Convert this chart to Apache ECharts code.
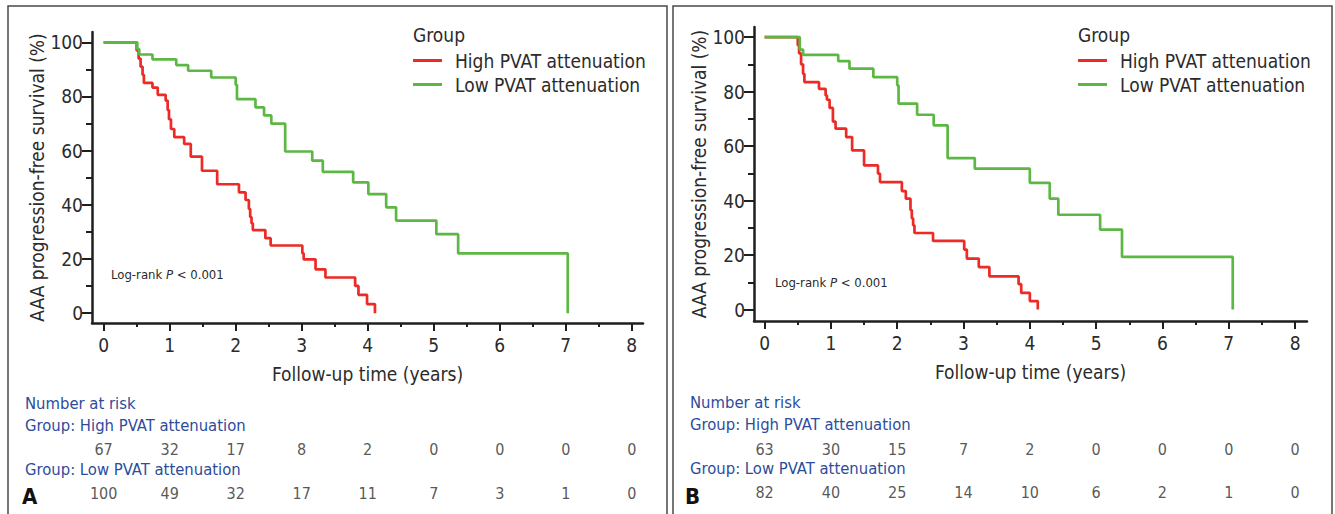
<!DOCTYPE html>
<html>
<head>
<meta charset="utf-8">
<script src="https://cdn.jsdelivr.net/npm/echarts@6/dist/echarts.min.js"></script>
<style>html,body{margin:0;padding:0;background:#fff}#c{width:1335px;height:514px}</style>
</head>
<body>
<div id="c"></div>
<script>
// ---------- data ----------
const xTickRange = [0, 8];      // years, labelled every 1, minor every 0.5
const xTickStep = 1;
const yTickRange = [0, 100];    // %, labelled every 20, minor every 10
const yTickStep = 20;
const groupNames = ['High PVAT attenuation','Low PVAT attenuation'];
const riskTimes = [0,1,2,3,4,5,6,7,8];

// Panel A  [time (years), survival (%)]
const highA = [[0,100],[0.50,97],[0.53,94],[0.56,91],[0.59,88],[0.61,85],[0.74,83.3],[0.82,80.6],[0.94,78.5],[0.97,75],[0.99,71.6],[1.02,68],[1.07,65],[1.22,62.5],[1.32,57.8],[1.49,52.6],[1.72,47.6],[2.05,44.6],[2.15,41.8],[2.20,38.5],[2.22,35.5],[2.24,33.2],[2.26,30.7],[2.45,27.7],[2.53,25],[3.01,22.1],[3.03,19.9],[3.21,16.2],[3.36,13.2],[3.81,10.1],[3.86,6.8],[3.99,3.4],[4.11,0]];
const lowA = [[0,100],[0.51,97.5],[0.54,95.5],[0.74,93.7],[1.10,91.6],[1.28,89.5],[1.63,87],[2.00,84.3],[2.02,79],[2.30,76],[2.43,73],[2.54,70],[2.75,59.7],[3.16,56.3],[3.32,52.2],[3.78,48.3],[4.01,44],[4.28,39.1],[4.43,34.2],[5.04,29.2],[5.37,22.1],[7.03,0]];
const riskHighA = [67,32,17,8,2,0,0,0,0];
const riskLowA = [100,49,32,17,11,7,3,1,0];

// Panel B
const highB = [[0,100],[0.50,97],[0.52,94],[0.55,90],[0.58,86.5],[0.60,83.5],[0.82,81],[0.92,78.6],[0.94,77],[0.98,74],[1.03,69],[1.07,66.4],[1.23,63.3],[1.32,58.4],[1.50,52.9],[1.71,49.9],[1.74,46.8],[2.07,43.5],[2.13,40.7],[2.20,36.5],[2.22,33.5],[2.24,30.9],[2.26,28.1],[2.54,25.2],[3.01,22],[3.05,18.7],[3.23,15.6],[3.39,12.2],[3.83,9.3],[3.87,6.1],[4.00,3.1],[4.12,0]];
const lowB = [[0,100],[0.53,95.4],[0.58,93.5],[1.11,91.2],[1.28,88.4],[1.64,85.3],[2.00,82.3],[2.02,75.6],[2.30,71.5],[2.55,67.6],[2.76,55.6],[3.17,51.7],[4.00,46.5],[4.30,40.7],[4.43,34.8],[5.06,29.3],[5.39,19.3],[7.06,0]];
const riskHighB = [63,30,15,7,2,0,0,0,0];
const riskLowB = [82,40,25,14,10,6,2,1,0];

// ---------- layout / style ----------
const FONT = "'DejaVu Sans Condensed','Liberation Sans Narrow',sans-serif";
const RED = '#ec2a26', GREEN = '#5db745', BLUE = '#2d4c9c', TXT = '#2b2b2b', AX = '#1e1e1e';
const W = 1335, H = 514;

const panels = [
  {box:{l:92,r:643,t:32,b:323}, xr:[-0.176,8.17], yr:[-3.6,103.8], riskTop:449, riskBottom:493,
   high:highA, low:lowA, rh:riskHighA, rl:riskLowA,
   legendLeft:413, textLeft:25, letter:'A', letterX:22, logX:111, logY:276, rowY:[405,427,471]},
  {box:{l:754,r:1307,t:27,b:321}, xr:[-0.16,8.18], yr:[-4.2,103.7], riskTop:449, riskBottom:492,
   high:highB, low:lowB, rh:riskHighB, rl:riskLowB,
   legendLeft:1078, textLeft:690, letter:'B', letterX:685, logX:775, logY:284, rowY:[404,426,470]}
];

const grids=[], xAxes=[], yAxes=[], series=[], legends=[], graphics=[];
function hiddenAxis(g, min, max, extra){ return Object.assign({type:'value', gridIndex:g, min:min, max:max, show:false}, extra||{}); }
// axis that draws only minor ticks (one between each pair of interval ticks)
function minorOnlyAxis(g, pos, min, max, step, len, label){
  return {type:'value', gridIndex:g, position:pos, min:min, max:max, interval:step,
    axisLine:{show:false,onZero:false},
    axisTick:{show:false},
    minorTick:{show:true,splitNumber:2,length:len,lineStyle:{color:AX,width:2}},
    axisLabel:label ? Object.assign({show:true,fontFamily:FONT,fontSize:19,color:TXT}, label) : {show:false},
    splitLine:{show:false}, minorSplitLine:{show:false}};
}

panels.forEach((p,i)=>{
  const b = p.box;
  const pxX = v => b.l + (v - p.xr[0]) / (p.xr[1] - p.xr[0]) * (b.r - b.l);
  const pxY = v => b.b - (v - p.yr[0]) / (p.yr[1] - p.yr[0]) * (b.b - b.t);
  const hx = xTickStep/2, hy = yTickStep/4; // offsets so that minor ticks land on the labelled values

  // main plot (axis lines + curves)
  const gMain = grids.length;
  grids.push({left:b.l, right:W-b.r, top:b.t, bottom:H-b.b});
  const xi = xAxes.length, yi = yAxes.length;
  xAxes.push({type:'value', gridIndex:gMain, position:'bottom', min:p.xr[0], max:p.xr[1],
    name:'Follow-up time (years)', nameLocation:'middle', nameGap:41,
    nameTextStyle:{fontFamily:FONT,fontSize:19,color:TXT},
    axisLine:{show:true,onZero:false,lineStyle:{color:AX,width:2.5}},
    axisTick:{show:false}, axisLabel:{show:false}, splitLine:{show:false}});
  yAxes.push({type:'value', gridIndex:gMain, position:'left', min:p.yr[0], max:p.yr[1],
    name:'AAA progression-free survival (%)', nameLocation:'middle', nameGap:46, nameRotate:90,
    nameTextStyle:{fontFamily:FONT,fontSize:19,color:TXT},
    axisLine:{show:true,onZero:false,lineStyle:{color:AX,width:2.5}},
    axisTick:{show:false}, axisLabel:{show:false}, splitLine:{show:false}});

  // x labels + half-year ticks (0..8 of the same scale)
  let g = grids.length;
  grids.push({left:pxX(xTickRange[0]), right:W-pxX(xTickRange[1]), top:b.t, bottom:H-b.b});
  xAxes.push(minorOnlyAxis(g,'bottom',xTickRange[0],xTickRange[1],xTickStep,4,{margin:12}));
  yAxes.push(hiddenAxis(g,0,1));
  // whole-year ticks (-0.5..8.5, minor ticks fall on 0..8)
  g = grids.length;
  grids.push({left:pxX(xTickRange[0]-hx), right:W-pxX(xTickRange[1]+hx), top:b.t, bottom:H-b.b});
  xAxes.push(minorOnlyAxis(g,'bottom',xTickRange[0]-hx,xTickRange[1]+hx,xTickStep,8,null));
  yAxes.push(hiddenAxis(g,0,1));
  // y labels + 10% ticks (0..100)
  g = grids.length;
  grids.push({left:b.l, right:W-b.r, top:pxY(yTickRange[1]), bottom:H-pxY(yTickRange[0])});
  xAxes.push(hiddenAxis(g,0,1));
  yAxes.push(minorOnlyAxis(g,'left',yTickRange[0],yTickRange[1],yTickStep,6,{margin:9}));
  // 20% ticks (-10..110, minor ticks fall on 0..100)
  g = grids.length;
  grids.push({left:b.l, right:W-b.r, top:pxY(yTickRange[1]+2*hy), bottom:H-pxY(yTickRange[0]-2*hy)});
  xAxes.push(hiddenAxis(g,0,1));
  yAxes.push(minorOnlyAxis(g,'left',yTickRange[0]-2*hy,yTickRange[1]+2*hy,yTickStep,10,null));

  // number-at-risk table, same x scale as main plot
  const gR = grids.length;
  grids.push({left:b.l, right:W-b.r, top:p.riskTop, bottom:H-p.riskBottom});
  const xr = xAxes.length, yr = yAxes.length;
  xAxes.push(hiddenAxis(gR,p.xr[0],p.xr[1]));
  yAxes.push(hiddenAxis(gR,0,1,{inverse:true}));

  series.push({type:'line', name:groupNames[0], xAxisIndex:xi, yAxisIndex:yi, step:'end',
    symbol:'none', data:p.high, lineStyle:{color:RED,width:2.7}, itemStyle:{color:RED}});
  series.push({type:'line', name:groupNames[1], xAxisIndex:xi, yAxisIndex:yi, step:'end',
    symbol:'none', data:p.low, lineStyle:{color:GREEN,width:2.7}, itemStyle:{color:GREEN}});
  [p.rh, p.rl].forEach((r,ri)=>{
    series.push({type:'scatter', name:'risk'+i+ri, xAxisIndex:xr, yAxisIndex:yr, symbolSize:1,
      itemStyle:{color:'rgba(0,0,0,0)'},
      data:riskTimes.map((t,k)=>[t,ri,r[k]]),
      label:{show:true,position:'inside',formatter:(d)=>String(d.value[2]),fontFamily:FONT,fontSize:16,color:TXT},
      silent:true});
  });

  legends.push({orient:'vertical', left:p.legendLeft, top:51, padding:0, itemGap:5,
    itemWidth:29, itemHeight:3, icon:'rect', data:groupNames.slice(), selectedMode:false,
    textStyle:{fontFamily:FONT,fontSize:19,color:TXT,padding:[0,0,0,8]}});

  graphics.push({type:'text', left:p.legendLeft, top:25, style:{text:'Group',font:'19px '+FONT,fill:TXT}});
  graphics.push({type:'text', left:p.logX, top:p.logY-8,
    style:{text:'Log-rank {i|P} < 0.001', font:'13px '+FONT, fill:TXT,
      rich:{i:{fontStyle:'italic',fontFamily:FONT,fontSize:13,fill:TXT}}}});
  graphics.push({type:'text', left:p.textLeft, top:p.rowY[0]-10, style:{text:'Number at risk',font:'16.5px '+FONT,fill:BLUE}});
  graphics.push({type:'text', left:p.textLeft, top:p.rowY[1]-10, style:{text:'Group: High PVAT attenuation',font:'16.5px '+FONT,fill:BLUE}});
  graphics.push({type:'text', left:p.textLeft, top:p.rowY[2]-10, style:{text:'Group: Low PVAT attenuation',font:'16.5px '+FONT,fill:BLUE}});
  graphics.push({type:'text', left:p.letterX, top:485, style:{text:p.letter,font:'bold 22px '+FONT,fill:'#111'}});
});
// panel frames
graphics.push({type:'rect', shape:{x:8,y:6,width:659,height:520}, style:{fill:'none',stroke:'#4a4a4a',lineWidth:1.5}, silent:true});
graphics.push({type:'rect', shape:{x:673,y:6,width:659,height:520}, style:{fill:'none',stroke:'#4a4a4a',lineWidth:1.5}, silent:true});

const chart = echarts.init(document.getElementById('c'), null, {renderer:'svg'});
chart.setOption({
  animation:false,
  backgroundColor:'#fff',
  grid:grids, xAxis:xAxes, yAxis:yAxes, series:series, legend:legends, graphic:graphics,
  tooltip:{show:false}
});
</script>
</body>
</html>
